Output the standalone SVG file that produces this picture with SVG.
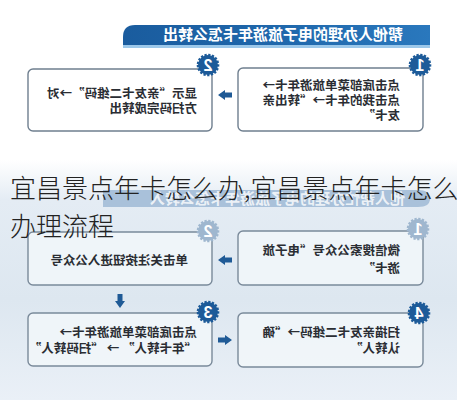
<svg xmlns="http://www.w3.org/2000/svg" width="457" height="400" viewBox="0 0 457 400">
<defs>
<linearGradient id="bg" x1="0" y1="0" x2="0" y2="400" gradientUnits="userSpaceOnUse">
<stop offset="0" stop-color="#ffffff"/>
<stop offset="0.4" stop-color="#ffffff"/>
<stop offset="0.5" stop-color="#e4ecf4"/>
<stop offset="0.75" stop-color="#dde7f0"/>
<stop offset="1" stop-color="#eaf0f7"/>
</linearGradient>
<linearGradient id="bar" x1="0" y1="0" x2="1" y2="0">
<stop offset="0" stop-color="#2a78bd"/>
<stop offset="0.5" stop-color="#1f67ab"/>
<stop offset="1" stop-color="#1a5c9e"/>
</linearGradient>
<style>
.box{fill:#ffffff;stroke:#6f7f8f;stroke-width:1.4}
.boxl{fill:#f1f6fa;fill-opacity:0.9;stroke:#7a8a9a;stroke-width:1.4}
.t{font-family:"Noto Sans CJK SC","Noto Sans",sans-serif;font-size:12.5px;font-weight:bold;fill:#2a2d33}
.ttl{font-family:"Noto Sans CJK SC","Noto Sans",sans-serif;font-size:15px;font-weight:bold;fill:#ffffff}
.bd circle{fill:#1d5b99;stroke:#1d5b99;stroke-width:2.6;stroke-dasharray:2.2 1.5}
.bdf circle{fill:#9fb7cf;stroke:#9fb7cf;stroke-width:2.6;stroke-dasharray:2.2 1.5}
.num{font-family:"Liberation Sans",Arial,sans-serif;font-size:16px;font-weight:bold;fill:#ffffff;text-anchor:middle}
.arr{fill:#1f5a96}
.cap{font-family:"Noto Sans CJK SC","Noto Sans",sans-serif;font-size:26px;font-weight:300;fill:#222222}
</style>
<path id="ar" d="M-7,-2.5 H0 V-5 L7,0 L0,5 V2.5 H-7 Z"/>
</defs>
<rect x="0" y="0" width="457" height="400" fill="url(#bg)"/>
<g id="diagram" transform="matrix(-1 0 0 1 457 0)">
  <g id="title-top">
    <rect x="27" y="44" width="307" height="4" fill="#9cc8ea"/>
    <path d="M27,25 H322 Q334,25 334,37 V45 H27 Z" fill="url(#bar)"/>
    <text class="ttl" x="174" y="40" text-anchor="middle">帮他人办理的电子旅游年卡怎么转出</text>
  </g>
  <g id="step1-top">
    <rect class="box" x="34" y="68" width="185" height="63" rx="5"/>
    <text class="t" x="57" y="90">点击底部菜单旅游年卡→</text>
    <text class="t" x="57" y="105">点击我的年卡→“转出亲</text>
    <text class="t" x="57" y="120">友卡”</text>
    <g class="bd"><circle cx="37" cy="65" r="10"/></g>
    <text class="num" x="37" y="71">1</text>
  </g>
  <g id="step2-top">
    <rect class="box" x="245" y="69" width="184" height="62" rx="5"/>
    <text class="t" x="260" y="98">显示“亲友卡二维码”→对</text>
    <text class="t" x="260" y="113">方扫码完成转出</text>
    <g class="bd"><circle cx="249" cy="65" r="10"/></g>
    <text class="num" x="249" y="71">2</text>
  </g>
  <g id="title-bottom">
    <path d="M39,190 H354 V207 H39 Q27,207 27,198.5 Q27,190 39,190 Z" fill="#a9c1da"/>
    <text class="ttl" x="52" y="204" fill-opacity="0.8">他人帮忙办理的电子旅游年卡怎么转入</text>
  </g>
  <g id="step1-bottom">
    <rect class="boxl" x="34" y="231" width="185" height="54" rx="5"/>
    <text class="t" x="57" y="255">微信搜索公众号“电子旅</text>
    <text class="t" x="57" y="273">游卡”</text>
    <g class="bdf"><circle cx="39" cy="229" r="10"/></g>
    <text class="num" x="39" y="235">1</text>
  </g>
  <g id="step2-bottom">
    <rect class="boxl" x="245" y="232" width="184" height="53" rx="5"/>
    <text class="t" x="269" y="265">单击关注按钮进入公众号</text>
    <g class="bdf"><circle cx="249" cy="231" r="10"/></g>
    <text class="num" x="249" y="237">2</text>
  </g>
  <g id="step3-bottom">
    <rect class="boxl" x="245" y="313" width="184" height="53" rx="5"/>
    <text class="t" x="260" y="337">点击底部菜单旅游年卡→</text>
    <text class="t" x="260" y="353">“年卡转人” → “扫码转人”</text>
    <g class="bd"><circle cx="249" cy="312" r="10"/></g>
    <text class="num" x="249" y="318">3</text>
  </g>
  <g id="step4-bottom">
    <rect class="boxl" x="34" y="313" width="185" height="54" rx="5"/>
    <text class="t" x="57" y="337">扫描亲友卡二维码→“确</text>
    <text class="t" x="57" y="353">认转人”</text>
    <g class="bd"><circle cx="38" cy="313" r="10"/></g>
    <text class="num" x="38" y="319">4</text>
  </g>
  <g id="connectors">
    <use href="#ar" class="arr" transform="translate(232,95)"/>
    <use href="#ar" class="arr" transform="translate(232,260)"/>
    <use href="#ar" class="arr" transform="translate(337,301) rotate(90)"/>
    <use href="#ar" class="arr" transform="translate(232,340) rotate(180)"/>
  </g>
</g>
<g id="caption">
  <text class="cap" x="10" y="198">宜昌景点年卡怎么办,宜昌景点年卡怎么</text>
  <text class="cap" x="10" y="236">办理流程</text>
</g>
</svg>
